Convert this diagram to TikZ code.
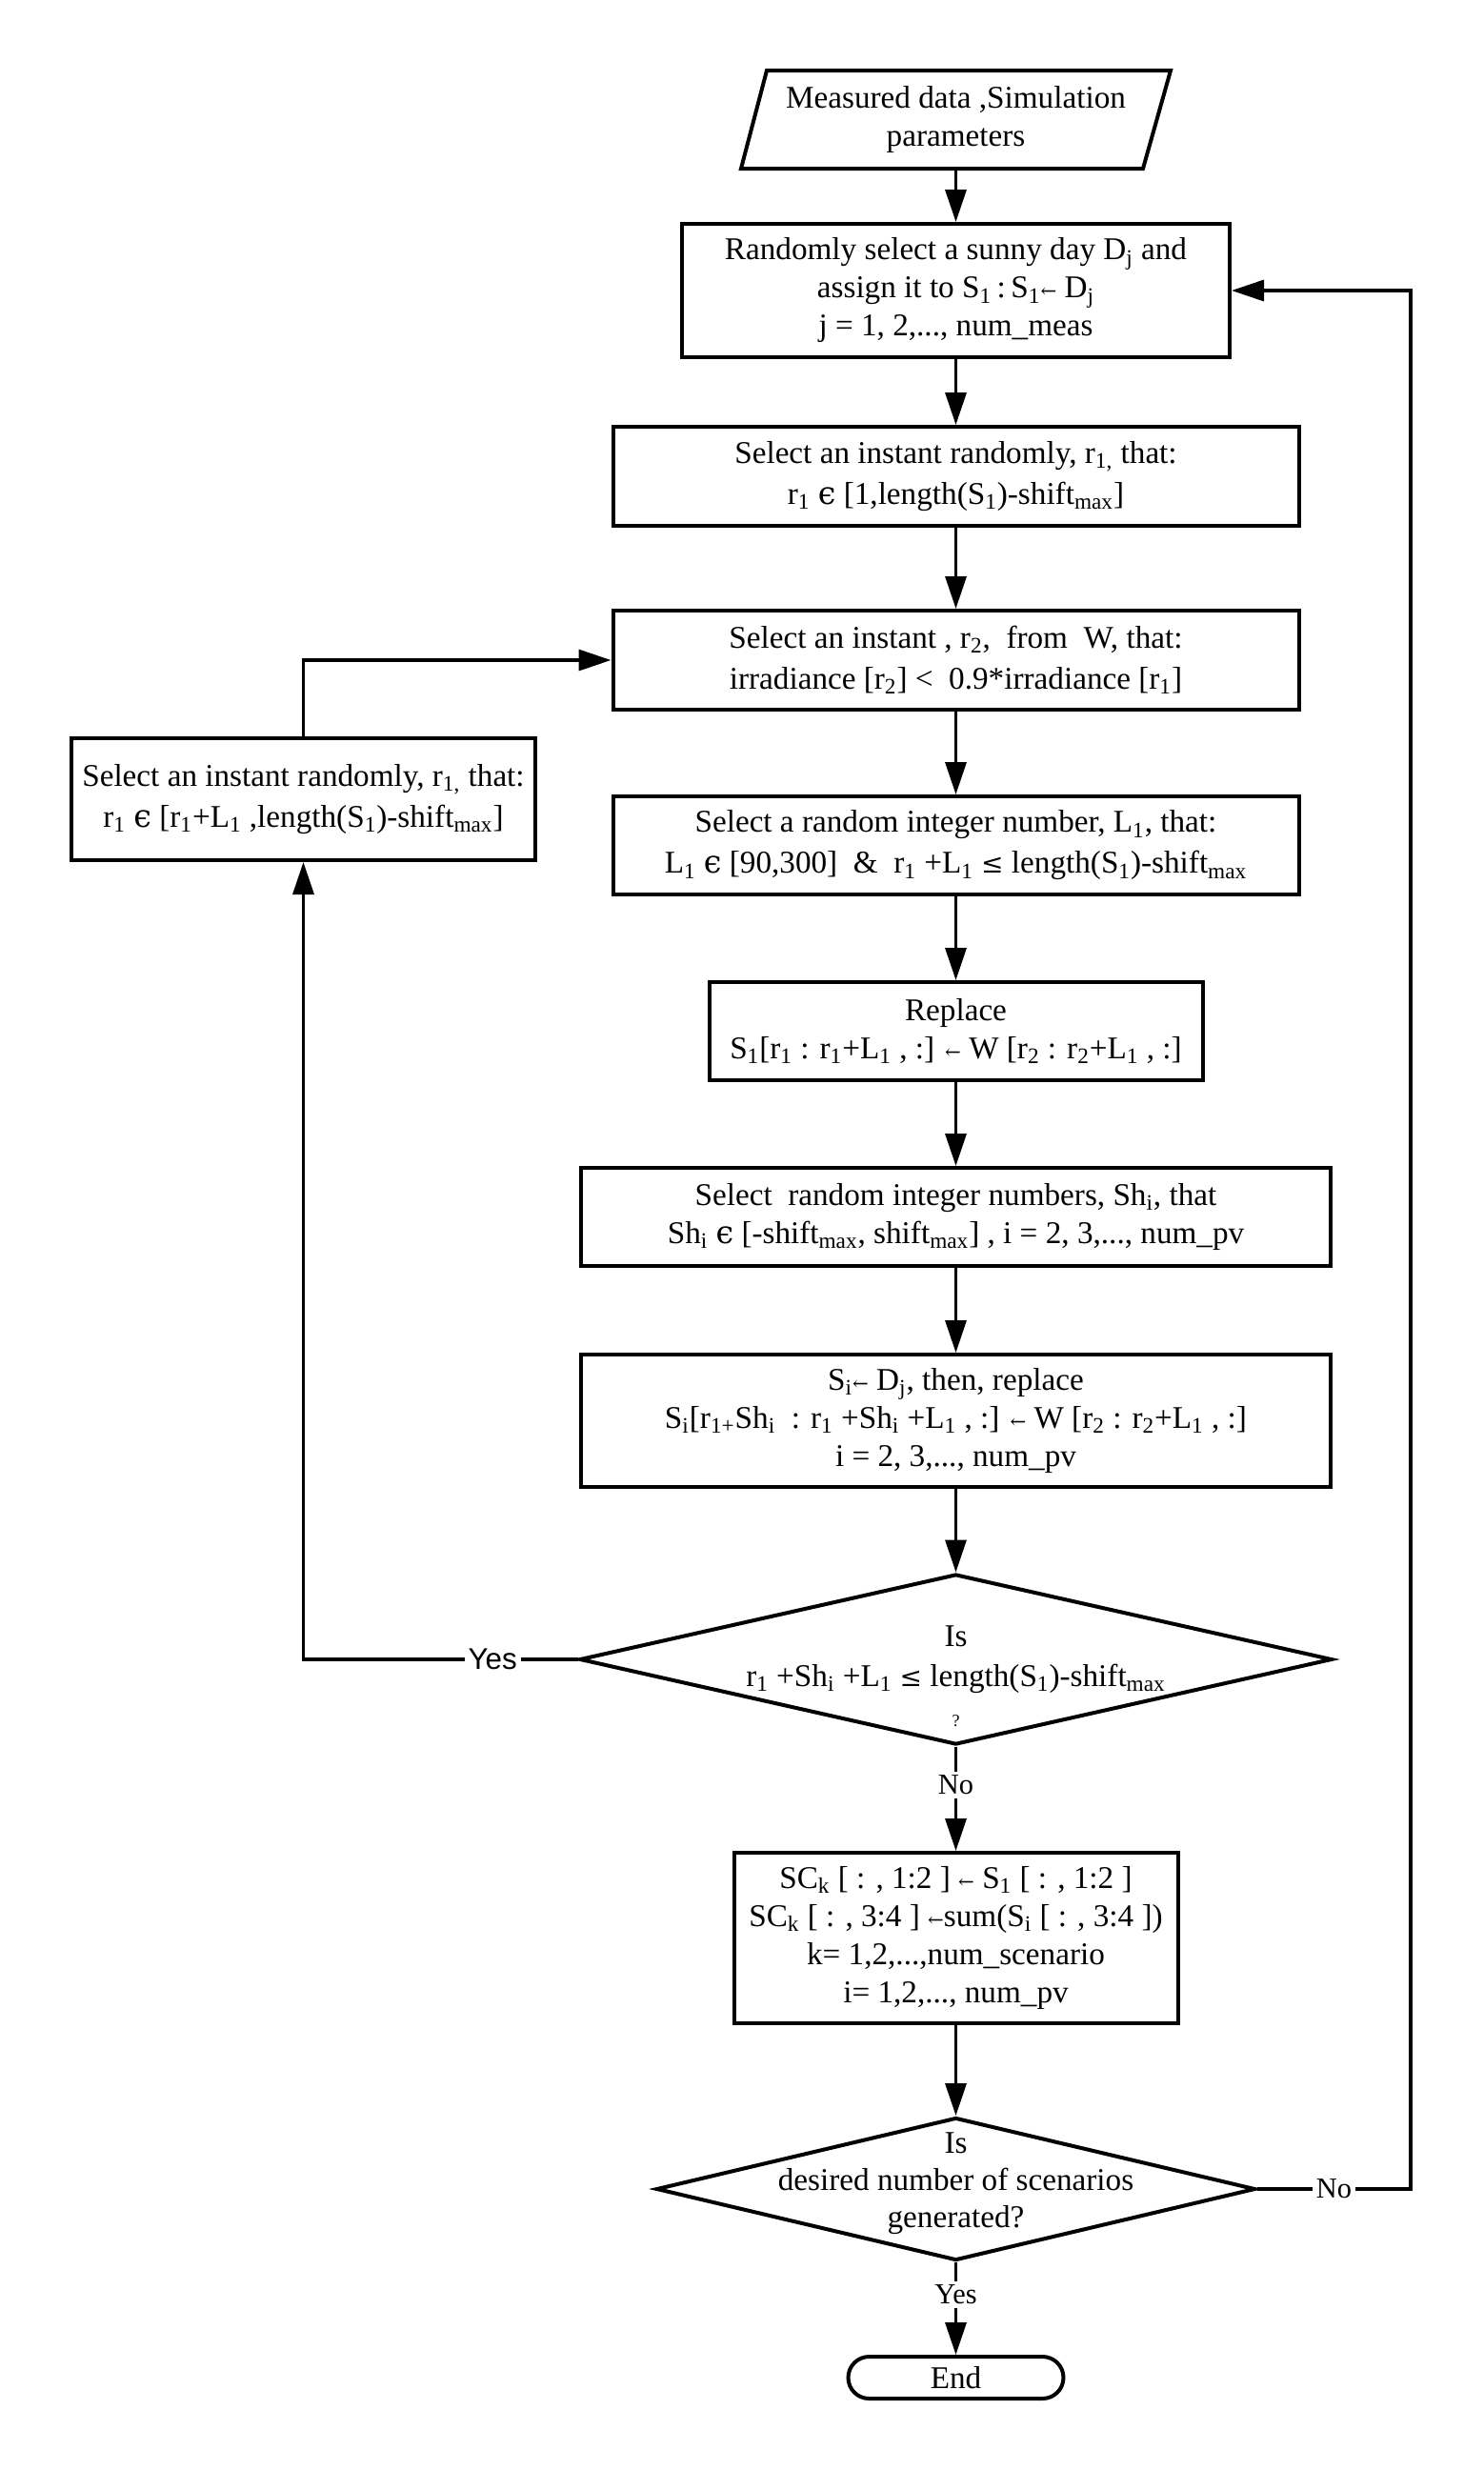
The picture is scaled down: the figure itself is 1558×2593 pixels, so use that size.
\documentclass[tikz,border=0pt]{standalone}
\usepackage{fontspec}
\setmainfont{Liberation Serif}
\newfontfamily\labsans{Liberation Sans}
\newfontfamily\symf{DejaVu Serif}
\usetikzlibrary{arrows.meta,shapes.geometric,shapes.misc}
\newcommand\sbs[1]{\textsubscript{#1}}
\newcommand\arrw{{\symf\fontsize{10pt}{10pt}\selectfont ←}}
\newcommand\elem{{\symf ϵ}}
\newcommand\leqs{{\symf\fontsize{14pt}{14pt}\selectfont ≤}}
\begin{document}
\begin{tikzpicture}[x=0.5pt,y=-0.5pt,
  every node/.style={font=\fontsize{16.6pt}{20pt}\selectfont, align=center, inner sep=0pt},
  sz/.style 2 args={minimum width=#1*0.5pt, minimum height=#2*0.5pt},
  box/.style={draw, line width=2pt, rectangle},
  twol/.style={font=\fontsize{16.6pt}{21.5pt}\selectfont},
  conn/.style={line width=1.7pt},
  arr/.style={conn, -{Triangle[length=17pt,width=11pt]}},
  lab/.style={fill=white, inner sep=2pt, font=\fontsize{15.2pt}{18pt}\selectfont},
  labs/.style={fill=white, inner sep=2pt, font=\labsans\fontsize{15.7pt}{18pt}\selectfont}]
\path[use as bounding box, fill=white] (0,0) rectangle (1558,2593);

\draw[line width=2pt, line join=miter] (778,177) -- (805,74) -- (1229,74) -- (1200,177) -- cycle;
\node (in) at (1003.5,125.5) {Measured data ,Simulation\\parameters};
\coordinate (inb) at (1003.5,177);

\node[box, sz={575}{140}] (b1) at (1003.5,305)
  {Randomly select a sunny day D\sbs{j} and\\assign it to S\sbs{1}\,:\,S\sbs{1}\arrw\ D\sbs{j}\\j = 1, 2,..., num\_meas};

\node[box, twol, sz={720}{104}] (b2) at (1003.5,500)
  {Select an instant randomly, r\sbs{1,} that:\\r\sbs{1} \elem{} [1,length(S\sbs{1})-shift\sbs{max}]};

\node[box, twol, sz={720}{104}] (b3) at (1003.5,693)
  {Select an instant , r\sbs{2},\ \ from\ \ W, that:\\irradiance [r\sbs{2}] <\ \ 0.9*irradiance [r\sbs{1}]};

\node[box, twol, sz={487}{128}] (bL) at (318.5,839)
  {Select an instant randomly, r\sbs{1,} that:\\r\sbs{1} \elem{} [r\sbs{1}+L\sbs{1} ,length(S\sbs{1})-shift\sbs{max}]};

\node[box, twol, sz={720}{103}] (b4) at (1003.5,887.5)
  {Select a random integer number, L\sbs{1}, that:\\L\sbs{1} \elem{} [90,300]\ \ \&\ \ r\sbs{1} +L\sbs{1} \leqs{} length(S\sbs{1})-shift\sbs{max}};

\node[box, sz={518}{103}] (b5) at (1003.5,1082.5)
  {Replace\\S\sbs{1}[r\sbs{1} : r\sbs{1}+L\sbs{1} , :] \arrw\ W [r\sbs{2} : r\sbs{2}+L\sbs{1} , :]};

\node[box, sz={787}{103}] (b6) at (1003.5,1277.5)
  {Select\ \ random integer numbers, Sh\sbs{i}, that\\Sh\sbs{i} \elem{} [-shift\sbs{max}, shift\sbs{max}] , i = 2, 3,..., num\_pv};

\node[box, sz={787}{139}] (b7) at (1003.5,1491.5)
  {S\sbs{i}\arrw\ D\sbs{j}, then, replace\\S\sbs{i}[r\sbs{1+}Sh\sbs{i}\ \ : r\sbs{1} +Sh\sbs{i} +L\sbs{1} , :] \arrw\ W [r\sbs{2} : r\sbs{2}+L\sbs{1} , :]\\i = 2, 3,..., num\_pv};

\node[diamond, draw, line width=2pt, sz={790}{179}] (d1) at (1003.5,1742) {};
\node[anchor=base] (d1a) at (1003.5,1728) {Is};
\node[anchor=base] (d1b) at (1003.5,1770) {r\sbs{1} +Sh\sbs{i} +L\sbs{1} \leqs{} length(S\sbs{1})-shift\sbs{max}};
\node[anchor=base, font=\fontsize{9pt}{10pt}\selectfont] (d1c) at (1003.5,1812) {?};

\node[box, sz={466}{179}] (sc) at (1003.5,2034.5)
  {SC\sbs{k} [ : , 1:2 ] \arrw\ S\sbs{1} [ : , 1:2 ]\\SC\sbs{k} [ : , 3:4 ] \arrw sum(S\sbs{i} [ : , 3:4 ])\\k= 1,2,...,num\_scenario\\i= 1,2,..., num\_pv};

\node[diamond, draw, line width=2pt, sz={629}{150}] (d2) at (1003.5,2298) {};
\node[anchor=base] (d2a) at (1003.5,2260) {Is};
\node[anchor=base] (d2b) at (1003.5,2299) {desired number of scenarios};
\node[anchor=base] (d2c) at (1003.5,2338) {generated?};

\node[rounded rectangle, draw, line width=2pt, sz={226}{44}] (end) at (1003.5,2496) {End};

\coordinate (rr) at (1481,0);

\draw[arr] (inb) -- (b1.north);
\draw[arr] (b1) -- (b2);
\draw[arr] (b2) -- (b3);
\draw[arr] (b3) -- (b4);
\draw[arr] (b4) -- (b5);
\draw[arr] (b5) -- (b6);
\draw[arr] (b6) -- (b7);
\draw[arr] (b7) -- (d1);
\draw[arr] (d1.west) -- node[labs, pos=0.31]{Yes} (bL.south |- d1.west) -- (bL.south);
\draw[arr] (bL.north) |- (b3.west);
\draw[arr] (d1.south) -- node[lab, pos=0.37]{No} (sc.north);
\draw[arr] (sc) -- (d2);
\draw[arr] (d2.east) -- node[lab]{No} (d2.east -| rr) |- (b1.east);
\draw[arr] (d2.south) -- node[lab, pos=0.35]{Yes} (end.north);
\end{tikzpicture}
\end{document}
